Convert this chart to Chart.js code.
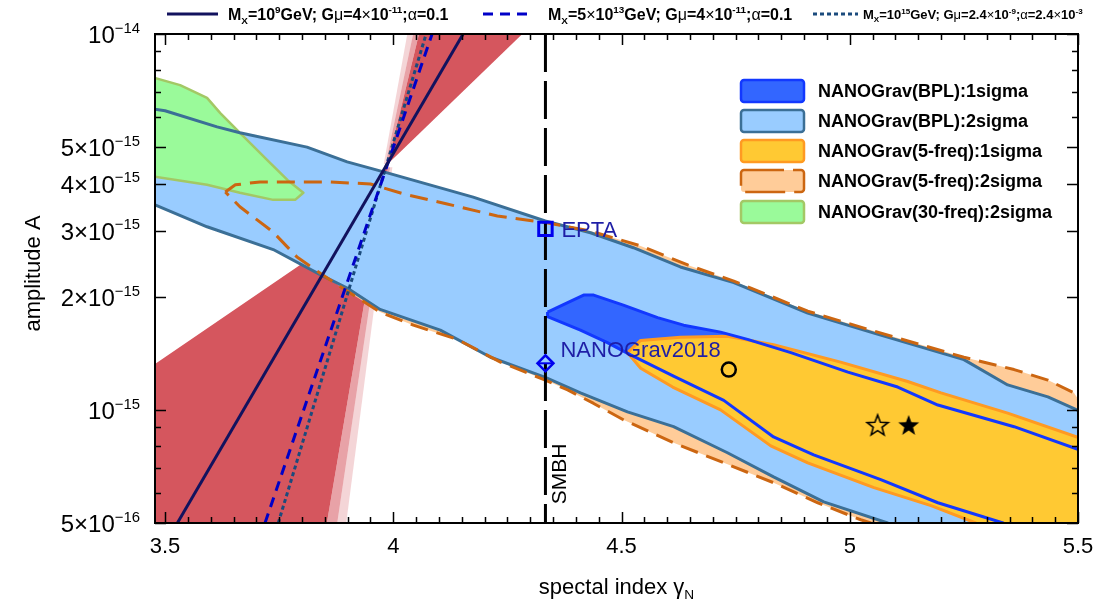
<!DOCTYPE html>
<html>
<head>
<meta charset="utf-8">
<script src="https://cdn.jsdelivr.net/npm/chart.js@4.4.1/dist/chart.umd.min.js"></script>
<style>
  html, body { margin: 0; padding: 0; background: #fff; }
  #wrap { width: 1111px; height: 613px; }
</style>
</head>
<body>
<div id="wrap"><canvas id="myChart" width="1111" height="613"></canvas></div>
<script>
// axis ticks
const xTickValues = [3.5, 4, 4.5, 5, 5.5];
const xTickLabels = ['3.5', '4', '4.5', '5', '5.5'];
const yTickValues = [5e-16, 1e-15, 2e-15, 3e-15, 4e-15, 5e-15, 1e-14];
const yTickLabels = ['5×10^−16', '10^−15', '2×10^−15', '3×10^−15', '4×10^−15', '5×10^−15', '10^−14'];
const yMinorTicks = [6e-16, 7e-16, 8e-16, 9e-16, 6e-15, 7e-15, 8e-15, 9e-15];

// NANOGrav broken power law, 2 sigma (gamma, A)
const bpl2Upper = [[3.46,6.35e-15],[3.5,6.25e-15],[3.614,5.66e-15],[3.664,5.46e-15],[3.811,5.0e-15],[3.899,4.57e-15],
  [3.987,4.27e-15],[4.175,3.68e-15],[4.333,3.18e-15],[4.432,2.96e-15],[4.526,2.70e-15],[4.629,2.40e-15],[4.746,2.18e-15],
  [4.908,1.81e-15],[5.053,1.60e-15],[5.25,1.36e-15],[5.346,1.165e-15],[5.434,1.083e-15],[5.502,0.995e-15],[5.52,0.98e-15],
  [5.52,4.8e-16],[5.10,4.85e-16]];
const bpl2Lower = [[5.083,5e-16],[4.943,5.69e-16],[4.833,6.63e-16],[4.732,7.69e-16],[4.614,9.02e-16],[4.513,9.88e-16],
  [4.410,1.11e-15],[4.333,1.22e-15],[4.213,1.38e-15],[4.103,1.63e-15],[3.971,1.85e-15],[3.899,2.11e-15],[3.840,2.29e-15],
  [3.737,2.67e-15],[3.592,3.07e-15],[3.478,3.51e-15],[3.46,3.58e-15]];

// NANOGrav broken power law, 1 sigma
const bpl1Upper = [[4.338,1.82e-15],[4.382,1.93e-15],[4.417,2.02e-15],[4.439,2.02e-15],[4.504,1.90e-15],[4.579,1.76e-15],
  [4.636,1.68e-15],[4.717,1.61e-15],[4.776,1.54e-15],[4.871,1.42e-15],[4.996,1.26e-15],[5.105,1.15e-15],[5.193,1.03e-15],
  [5.360,9.02e-16],[5.502,7.83e-16],[5.52,7.7e-16],[5.52,4.8e-16],[5.345,4.8e-16]];
const bpl1Lower = [[5.336,5e-16],[5.193,5.66e-16],[5.068,6.52e-16],[4.921,7.59e-16],[4.833,8.47e-16],[4.724,1.06e-15],
  [4.614,1.23e-15],[4.520,1.40e-15],[4.469,1.51e-15],[4.410,1.63e-15],[4.338,1.77e-15]];

// NANOGrav 5-frequency fit, 1 sigma
const freq5s1Upper = [[4.513,1.42e-15],[4.542,1.53e-15],[4.629,1.56e-15],[4.732,1.57e-15],[4.833,1.49e-15],[4.980,1.34e-15],
  [5.127,1.19e-15],[5.2,1.11e-15],[5.346,9.8e-16],[5.502,8.43e-16],[5.52,8.3e-16],[5.52,4.8e-16],[5.29,4.8e-16]];
const freq5s1Lower = [[5.276,5e-16],[5.178,5.56e-16],[5.053,6.21e-16],[4.908,7.23e-16],[4.827,8.02e-16],[4.717,1.0e-15],
  [4.612,1.15e-15],[4.542,1.29e-15]];

// NANOGrav 5-frequency fit, 2 sigma
const freq5s2Upper = [[3.632,3.80e-15],[3.654,3.97e-15],[3.708,4.04e-15],[3.774,4.04e-15],[3.862,4.04e-15],[3.950,3.99e-15],
  [4.031,3.73e-15],[4.118,3.53e-15],[4.228,3.28e-15],[4.333,3.15e-15],[4.432,2.99e-15],[4.542,2.73e-15],[4.645,2.43e-15],
  [4.746,2.20e-15],[4.908,1.83e-15],[5.053,1.62e-15],[5.25,1.38e-15],[5.360,1.28e-15],[5.434,1.20e-15],[5.491,1.11e-15],
  [5.502,1.06e-15],[5.52,1.0e-15],[5.52,4.8e-16],[5.06,4.8e-16]];
const freq5s2Lower = [[5.046,5e-16],[5.024,5.10e-16],[4.930,5.66e-16],[4.833,6.40e-16],[4.724,7.23e-16],[4.614,8.17e-16],
  [4.504,9.41e-16],[4.439,1.04e-15],[4.382,1.13e-15],[4.333,1.20e-15],[4.235,1.34e-15],[4.140,1.54e-15],[4.044,1.68e-15],
  [3.971,1.82e-15],[3.899,2.07e-15],[3.840,2.31e-15],[3.789,2.55e-15],[3.737,2.97e-15],[3.664,3.47e-15]];

// NANOGrav 30-frequency fit, 2 sigma
const freq30s2 = [[3.46,7.75e-15],[3.533,7.31e-15],[3.592,6.76e-15],[3.621,6.16e-15],[3.664,5.46e-15],[3.724,4.62e-15],
  [3.768,4.09e-15],[3.803,3.78e-15],[3.785,3.62e-15],[3.737,3.62e-15],[3.664,3.78e-15],[3.592,3.97e-15],[3.46,4.2e-15]];

// cosmic string parameter scan (red double wedge) and its faded edges
const csLowerWedge = [[3.46,1.28e-15],[3.807,2.48e-15],[3.987,4.42e-15],[3.852,4.8e-16],[3.46,4.8e-16]];
const csLowerFadeA = [[3.987,4.42e-15],[3.852,4.8e-16],[3.875,4.8e-16],[3.993,4.42e-15]];
const csLowerFadeB = [[3.993,4.42e-15],[3.875,4.8e-16],[3.895,4.8e-16],[3.998,4.42e-15]];
const csUpperWedge = [[3.987,4.5e-15],[4.058,1.02e-14],[4.29,1.02e-14],[4.009,4.77e-15]];
const csUpperFadeA = [[3.983,4.5e-15],[4.045,1.02e-14],[4.058,1.02e-14],[3.987,4.5e-15]];
const csUpperFadeB = [[3.979,4.5e-15],[4.032,1.02e-14],[4.045,1.02e-14],[3.983,4.5e-15]];

// cosmic string model predictions
const csModelA = [[3.527,5e-16],[4.153,1e-14]];
const csModelB = [[3.719,5e-16],[4.085,1e-14]];
const csModelC = [[3.748,5e-16],[4.072,1e-14]];

// single points
const smbhGamma = 13 / 3;
const eptaPoint = [smbhGamma, 3.03e-15];
const nanograv2018Point = [smbhGamma, 1.33e-15];
const circlePoint = [4.735, 1.28e-15];
const openStarPoint = [5.061, 9.12e-16];
const filledStarPoint = [5.129, 9.12e-16];

const legendLabels = ['NANOGrav(BPL):1sigma', 'NANOGrav(BPL):2sigma', 'NANOGrav(5-freq):1sigma',
  'NANOGrav(5-freq):2sigma', 'NANOGrav(30-freq):2sigma'];
const modelLabels = [
  [['M',''],['X','sub'],['=10',''],['9','sup'],['GeV; G',''],['μ','sym'],['=4',''],['×','sym'],['10',''],['-11','sup'],[';',''],['α','sym'],['=0.1','']],
  [['M',''],['X','sub'],['=5',''],['×','sym'],['10',''],['13','sup'],['GeV; G',''],['μ','sym'],['=4',''],['×','sym'],['10',''],['-11','sup'],[';',''],['α','sym'],['=0.1','']],
  [['M',''],['X','sub'],['=10',''],['15','sup'],['GeV; G',''],['μ','sym'],['=2.4',''],['×','sym'],['10',''],['-9','sup'],[';',''],['α','sym'],['=2.4',''],['×','sym'],['10',''],['-3','sup']]
];

const FONT = '"Liberation Sans", Arial, Helvetica, sans-serif';

function poly(arr) { return arr.map(p => ({x: p[0], y: p[1]})); }
function ring(a, b) {
    const r = a.concat(b || []);
    return poly(r.concat([r[0]]));
}

function makeStar(filled) {
    const c = document.createElement('canvas');
    c.width = 26; c.height = 26;
    const g = c.getContext('2d');
    g.beginPath();
    for (let i = 0; i < 10; i++) {
        const r = i % 2 ? 4.6 : 11;
        const a = -Math.PI / 2 + i * Math.PI / 5;
        g.lineTo(13 + r * Math.cos(a), 14 + r * Math.sin(a));
    }
    g.closePath();
    if (filled) {
        g.fillStyle = '#000';
        g.fill();
    } else {
        g.lineWidth = 1.6;
        g.strokeStyle = '#000';
        g.stroke();
    }
    return c;
}

function area(data, color, order) {
    return {data: data, fill: 'shape', backgroundColor: color, borderWidth: 0, pointRadius: 0, order: order};
}
function outline(data, color, width, dash, order) {
    return {data: data, fill: false, borderColor: color, borderWidth: width, borderDash: dash || [], pointRadius: 0, order: order};
}
function marker(point, style, radius, color, width, order) {
    return {data: poly([point]), showLine: false, pointStyle: style, pointRadius: radius, pointHoverRadius: radius,
        borderColor: color, borderWidth: width, backgroundColor: 'rgba(0,0,0,0)', order: order};
}

const red = 'rgb(213,86,94)';
const csLineA = outline(poly(csModelA), '#12125e', 3, [], 2);
const csLineB = outline(poly(csModelB), '#0000c8', 3, [10, 7], 2);
const csLineC = outline(poly(csModelC), '#1b4b7d', 3, [4, 3], 2);

const datasets = [
    marker(filledStarPoint, makeStar(true), 10, '#000', 0, 0),
    marker(openStarPoint, makeStar(false), 10, '#000', 0, 0),
    marker(circlePoint, 'circle', 7, '#000', 2.5, 0),
    marker(eptaPoint, 'rect', 9.5, '#0000ee', 3, 0),
    marker(nanograv2018Point, 'rectRot', 8, '#0000ee', 2.5, 0),
    marker(nanograv2018Point, 'line', 8, '#0000ee', 2, 0),
    outline(poly([[smbhGamma, 1e-14], [smbhGamma, 5e-16]]), '#000', 3, [38, 9], 1),
    csLineA, csLineB, csLineC,
    outline(ring(bpl1Upper, bpl1Lower), '#1238ff', 3, [], 3),
    Object.assign(area(ring(freq5s1Upper, freq5s1Lower), '#ffc933', 4), {borderColor: '#ff9a22', borderWidth: 3}),
    area(ring(bpl1Upper, bpl1Lower), '#3366ff', 5),
    outline(ring(freq5s2Upper, freq5s2Lower), '#cc6611', 3, [18, 9], 6),
    outline(ring(bpl2Upper, bpl2Lower), '#3b6f96', 3, [], 7),
    Object.assign(area(ring(freq30s2), '#9afa9a', 8), {borderColor: '#a3c865', borderWidth: 2.5}),
    area(ring(bpl2Upper, bpl2Lower), '#99ccff', 9),
    area(ring(freq5s2Upper, freq5s2Lower), '#ffcc99', 10),
    area(ring(csLowerFadeA), 'rgba(213,86,94,0.55)', 11),
    area(ring(csLowerFadeB), 'rgba(213,86,94,0.25)', 11),
    area(ring(csUpperFadeA), 'rgba(213,86,94,0.55)', 11),
    area(ring(csUpperFadeB), 'rgba(213,86,94,0.25)', 11),
    area(ring(csLowerWedge), red, 12),
    area(ring(csUpperWedge), red, 12)
];

function segSize(kind, size) { return (kind === 'sup' || kind === 'sub') ? size * 0.62 : size; }
function richWidth(ctx, segs, size, weight) {
    let w = 0;
    for (const [t, kind] of segs) {
        const wt = kind === 'sym' ? 'normal' : weight;
        ctx.font = wt + ' ' + segSize(kind, size) + 'px ' + FONT;
        w += ctx.measureText(t).width;
    }
    return w;
}
function drawRich(ctx, segs, x, y, size, weight) {
    ctx.textAlign = 'left';
    ctx.textBaseline = 'alphabetic';
    for (const [t, kind] of segs) {
        let dy = 0, wt = weight;
        if (kind === 'sup') dy = -size * 0.42;
        else if (kind === 'sub') dy = size * 0.22;
        else if (kind === 'sym') wt = 'normal';
        ctx.font = wt + ' ' + segSize(kind, size) + 'px ' + FONT;
        ctx.fillText(t, x, y + dy);
        x += ctx.measureText(t).width;
    }
    return x;
}

const decor = {
    id: 'decor',
    afterDraw(chart) {
        const ctx = chart.ctx;
        const ca = chart.chartArea;
        const xs = chart.scales.x, ys = chart.scales.y;
        ctx.save();

        // frame and inward ticks
        ctx.strokeStyle = '#000';
        ctx.lineWidth = 2;
        ctx.setLineDash([]);
        ctx.strokeRect(ca.left, ca.top, ca.right - ca.left, ca.bottom - ca.top);
        ctx.lineWidth = 1.5;
        ctx.beginPath();
        for (let i = 0; i <= 40; i++) {
            const v = 3.5 + i * 0.05;
            const px = Math.round(xs.getPixelForValue(v)) + 0.5;
            const len = (i % 10 === 0) ? 11 : 6;
            ctx.moveTo(px, ca.bottom); ctx.lineTo(px, ca.bottom - len);
            ctx.moveTo(px, ca.top); ctx.lineTo(px, ca.top + len);
        }
        yTickValues.concat(yMinorTicks).forEach((v, i) => {
            const py = Math.round(ys.getPixelForValue(v)) + 0.5;
            const len = i < yTickValues.length ? 11 : 6;
            ctx.moveTo(ca.left, py); ctx.lineTo(ca.left + len, py);
            ctx.moveTo(ca.right, py); ctx.lineTo(ca.right - len, py);
        });
        ctx.stroke();

        // y tick labels with real superscripts
        ctx.fillStyle = '#000';
        ys.ticks.forEach((t, i) => {
            const parts = yTickLabels[i].split('^');
            const segs = [[parts[0], ''], [parts[1], 'sup']];
            const w = richWidth(ctx, segs, 24, 'normal');
            drawRich(ctx, segs, ca.left - 15 - w, ys.getPixelForValue(t.value) + 9, 24, 'normal');
        });

        // axis titles
        const xTitle = [['spectal index ', ''], ['γ', ''], ['N', 'sub']];
        const tw = richWidth(ctx, xTitle, 22, 'normal');
        drawRich(ctx, xTitle, (ca.left + ca.right) / 2 - tw / 2, 594, 22, 'normal');
        ctx.save();
        ctx.translate(40, (ca.top + ca.bottom) / 2 - 5);
        ctx.rotate(-Math.PI / 2);
        ctx.font = '22px ' + FONT;
        ctx.textAlign = 'center';
        ctx.fillText('amplitude A', 0, 0);
        ctx.restore();

        // point labels
        ctx.fillStyle = '#1e1ea6';
        ctx.font = '22px ' + FONT;
        ctx.textAlign = 'left';
        const sx = xs.getPixelForValue(smbhGamma);
        ctx.fillText('EPTA', sx + 16, ys.getPixelForValue(eptaPoint[1]) + 8);
        ctx.fillText('NANOGrav2018', sx + 15, ys.getPixelForValue(nanograv2018Point[1]) - 6);
        ctx.fillStyle = '#000';
        ctx.save();
        ctx.translate(sx + 21, 474);
        ctx.rotate(-Math.PI / 2);
        ctx.font = '21px ' + FONT;
        ctx.textAlign = 'center';
        ctx.fillText('SMBH', 0, 0);
        ctx.restore();

        // right legend
        const boxes = [
            {fill: '#3366ff', stroke: '#1238ff', dash: []},
            {fill: '#99ccff', stroke: '#3b6f96', dash: []},
            {fill: '#ffc933', stroke: '#ff9a22', dash: []},
            {fill: '#ffcc99', stroke: '#cc6611', dash: [40, 9]},
            {fill: '#9afa9a', stroke: '#a3c865', dash: []}
        ];
        const tops = [80, 110, 140, 170, 201];
        legendLabels.forEach((lab, i) => {
            const b = boxes[i];
            ctx.beginPath();
            ctx.roundRect(741, tops[i], 63, 22, 3);
            ctx.fillStyle = b.fill;
            ctx.fill();
            ctx.setLineDash(b.dash);
            ctx.lineWidth = 2.5;
            ctx.strokeStyle = b.stroke;
            ctx.stroke();
            ctx.setLineDash([]);
            ctx.fillStyle = '#000';
            ctx.font = 'bold 18px ' + FONT;
            ctx.textAlign = 'left';
            ctx.textBaseline = 'middle';
            ctx.fillText(lab, 818, tops[i] + 12);
        });

        // top legend for the model lines
        const lines = [
            {ds: csLineA, x0: 167, x1: 218, tx: 228, size: 16},
            {ds: csLineB, x0: 483, x1: 534, tx: 548, size: 16},
            {ds: csLineC, x0: 813, x1: 858, tx: 863, size: 13}
        ];
        lines.forEach((l, i) => {
            ctx.beginPath();
            ctx.strokeStyle = l.ds.borderColor;
            ctx.lineWidth = 3;
            ctx.setLineDash(l.ds.borderDash);
            ctx.moveTo(l.x0, 14); ctx.lineTo(l.x1, 14);
            ctx.stroke();
            ctx.setLineDash([]);
            ctx.fillStyle = '#000';
            drawRich(ctx, modelLabels[i], l.tx, i === 2 ? 19 : 20, l.size, 'bold');
        });
        ctx.restore();
    }
};

const config = {
    type: 'line',
    data: {datasets: datasets},
    options: {
        responsive: false,
        animation: false,
        devicePixelRatio: 1,
        events: [],
        layout: {padding: {top: 34, right: 33, left: 0, bottom: 0}},
        plugins: {legend: {display: false}, tooltip: {enabled: false}},
        elements: {line: {tension: 0, borderJoinStyle: 'round'}},
        scales: {
            x: {
                type: 'linear', min: 3.478, max: 5.5,
                grid: {display: false, drawTicks: false},
                border: {display: false},
                afterBuildTicks: s => { s.ticks = xTickValues.map(v => ({value: v})); },
                afterFit: s => { s.height = 90; },
                ticks: {autoSkip: false, maxRotation: 0, padding: 11, color: '#000',
                    font: {family: FONT, size: 22}, callback: (v, i) => xTickLabels[i]}
            },
            y: {
                type: 'logarithmic', min: 5e-16, max: 1e-14,
                grid: {display: false, drawTicks: false},
                border: {display: false},
                afterBuildTicks: s => { s.ticks = yTickValues.map(v => ({value: v})); },
                afterFit: s => { s.width = 155; },
                ticks: {display: false, autoSkip: false, callback: (v, i) => yTickLabels[i]}
            }
        }
    },
    plugins: [decor]
};

const myChart = new Chart(document.getElementById('myChart'), config);
</script>
</body>
</html>
